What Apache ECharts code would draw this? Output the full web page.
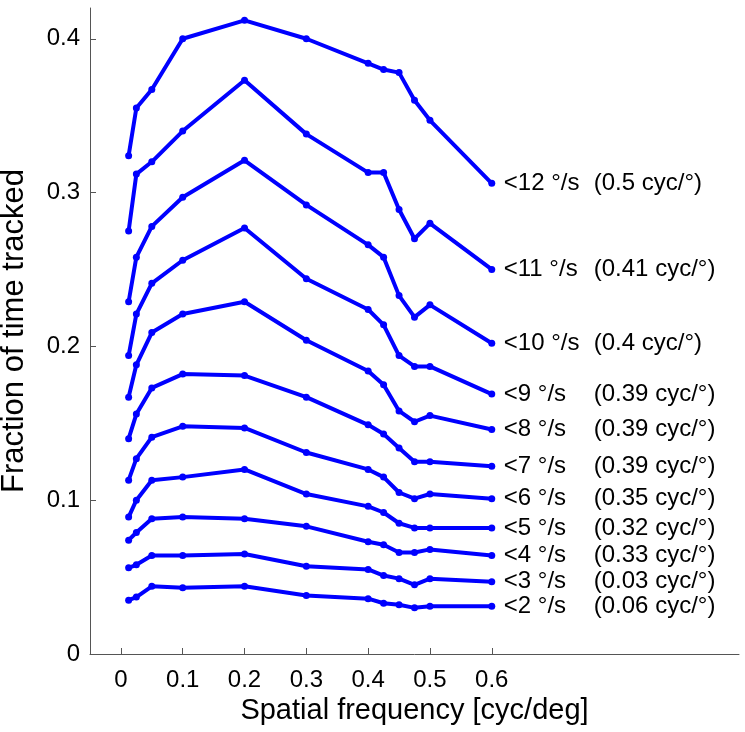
<!DOCTYPE html>
<html>
<head>
<meta charset="utf-8">
<script src="https://cdn.jsdelivr.net/npm/echarts@6.0.0/dist/echarts.min.js"></script>
<style>
html,body{margin:0;padding:0;background:#fff;}
#chart{width:745px;height:732px;}
</style>
</head>
<body>
<div id="chart"></div>
<script>
// Spatial frequencies (cyc/deg)
const xValues = [0.0125, 0.025, 0.05, 0.1, 0.2, 0.3, 0.4, 0.425, 0.45, 0.475, 0.5, 0.6];

const speedLabels = ['<2 °/s', '<3 °/s', '<4 °/s', '<5 °/s', '<6 °/s', '<7 °/s', '<8 °/s', '<9 °/s', '<10 °/s', '<11 °/s', '<12 °/s'];
const peakLabels = ['(0.06 cyc/°)', '(0.03 cyc/°)', '(0.33 cyc/°)', '(0.32 cyc/°)', '(0.35 cyc/°)', '(0.39 cyc/°)', '(0.39 cyc/°)', '(0.39 cyc/°)', '(0.4 cyc/°)', '(0.41 cyc/°)', '(0.5 cyc/°)'];

const s2  = [0.035, 0.037, 0.044, 0.043, 0.044, 0.038, 0.036, 0.033, 0.032, 0.030, 0.031, 0.031];
const s3  = [0.056, 0.058, 0.064, 0.064, 0.065, 0.057, 0.055, 0.051, 0.049, 0.045, 0.049, 0.047];
const s4  = [0.074, 0.079, 0.088, 0.089, 0.088, 0.083, 0.073, 0.071, 0.066, 0.066, 0.068, 0.064];
const s5  = [0.089, 0.100, 0.113, 0.115, 0.120, 0.104, 0.096, 0.092, 0.085, 0.082, 0.082, 0.082];
const s6  = [0.113, 0.127, 0.141, 0.148, 0.147, 0.131, 0.120, 0.115, 0.105, 0.101, 0.104, 0.101];
const s7  = [0.140, 0.156, 0.173, 0.182, 0.181, 0.167, 0.149, 0.143, 0.134, 0.125, 0.125, 0.122];
const s8  = [0.167, 0.188, 0.209, 0.221, 0.229, 0.204, 0.184, 0.175, 0.158, 0.151, 0.155, 0.146];
const s9  = [0.194, 0.221, 0.241, 0.256, 0.277, 0.244, 0.224, 0.214, 0.194, 0.187, 0.187, 0.169];
const s10 = [0.229, 0.258, 0.278, 0.297, 0.321, 0.292, 0.266, 0.258, 0.233, 0.219, 0.227, 0.202];
const s11 = [0.275, 0.312, 0.320, 0.340, 0.373, 0.338, 0.313, 0.313, 0.289, 0.270, 0.280, 0.250];
const s12 = [0.324, 0.355, 0.367, 0.400, 0.412, 0.400, 0.384, 0.380, 0.378, 0.360, 0.347, 0.306];

const allSeries = [s2, s3, s4, s5, s6, s7, s8, s9, s10, s11, s12];

const xTicks = [0, 0.1, 0.2, 0.3, 0.4, 0.5, 0.6];
const yTicks = [0, 0.1, 0.2, 0.3, 0.4];

const FONT = "'Liberation Sans', Arial, Helvetica, sans-serif";
const BLUE = '#0000ff';

const chart = echarts.init(document.getElementById('chart'), null, {renderer: 'canvas'});

const series = allSeries.map((vals, i) => ({
  type: 'line',
  name: speedLabels[i],
  data: xValues.map((x, j) => [x, vals[j]]),
  symbol: 'circle',
  symbolSize: 7,
  showSymbol: true,
  lineStyle: {color: BLUE, width: 4},
  itemStyle: {color: BLUE},
  emphasis: {disabled: true},
  endLabel: {
    show: true,
    distance: 12,
    formatter: () => '{a|' + speedLabels[i] + '}{b|' + peakLabels[i] + '}',
    rich: {
      a: {width: 90, fontFamily: FONT, fontSize: 24, color: '#000'},
      b: {fontFamily: FONT, fontSize: 24, color: '#000'}
    }
  }
}));

chart.setOption({
  animation: false,
  backgroundColor: '#fff',
  grid: {left: 90, right: 6, top: 8, bottom: 78, containLabel: false, outerBoundsMode: 'none'},
  xAxis: {
    type: 'value',
    min: -0.05,
    max: 1.0,
    name: 'Spatial frequency [cyc/deg]',
    nameLocation: 'middle',
    nameGap: 38,
    nameTextStyle: {fontFamily: FONT, fontSize: 29, color: '#000'},
    axisLine: {show: true, onZero: false, lineStyle: {color: '#555', width: 1}},
    axisTick: {show: true, inside: true, length: 6, customValues: xTicks, lineStyle: {color: '#555'}},
    axisLabel: {customValues: xTicks, fontFamily: FONT, fontSize: 24, color: '#000', margin: 14,
      formatter: v => String(v)},
    splitLine: {show: false}
  },
  yAxis: {
    type: 'value',
    min: 0,
    max: 0.42,
    name: 'Fraction of time tracked',
    nameLocation: 'middle',
    nameGap: 60,
    nameTextStyle: {fontFamily: FONT, fontSize: 31, color: '#000'},
    axisLine: {show: true, onZero: false, lineStyle: {color: '#555', width: 1}},
    axisTick: {show: true, inside: true, length: 6, customValues: yTicks, lineStyle: {color: '#555'}},
    axisLabel: {customValues: yTicks, fontFamily: FONT, fontSize: 24, color: '#000', margin: 10,
      formatter: v => String(v)},
    splitLine: {show: false}
  },
  series: series
});
</script>
</body>
</html>
